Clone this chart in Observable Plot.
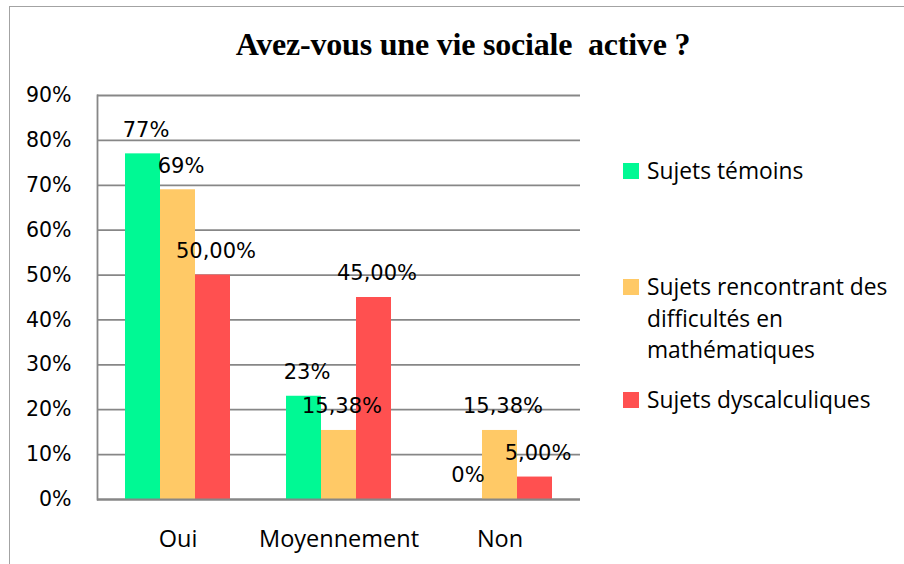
<!DOCTYPE html>
<html>
<head>
<meta charset="utf-8">
<script src="https://cdn.jsdelivr.net/npm/d3@7"></script>
<script src="https://cdn.jsdelivr.net/npm/@observablehq/plot@0.6"></script>
<style>
  html, body { margin: 0; padding: 0; background: #fff; }
  #wrap { position: relative; width: 904px; height: 564px; overflow: hidden; background: #fff; }
  #border { position: absolute; left: 9px; top: 6px; width: 1000px; height: 700px; border: 1.5px solid #a3a3a3; box-sizing: border-box; }
  #chart { position: absolute; left: 0; top: 0; }
  #title { position: absolute; left: 0; top: 28px; width: 926px; text-align: center; white-space: pre; line-height: 32px;
           font-family: "Liberation Serif", "Times New Roman", serif; font-weight: bold; font-size: 32px; color: #000;
           letter-spacing: -0.2px; }
  #legend { position: absolute; left: 623px; top: 0; font-family: "Open Sans", Lato, sans-serif; font-size: 22.8px; color: #000; }
  .item { position: absolute; left: 0; width: 280px; line-height: 31.5px; }
  .sw { position: absolute; left: 0; top: 8px; width: 16px; height: 16px; }
  .lbl { position: absolute; left: 24px; top: 0; width: 270px; white-space: nowrap; }
</style>
</head>
<body>
<div id="wrap">
  <div id="border"></div>
  <div id="chart"></div>
  <div id="title"></div>
  <div id="legend"></div>
</div>
<script>
const title = "Avez-vous une vie sociale  active ?";
const categories = ["Oui", "Moyennement", "Non"];
const series = ["Sujets témoins", "Sujets rencontrant des difficultés en mathématiques", "Sujets dyscalculiques"];
const legendLines = [["Sujets témoins"], ["Sujets rencontrant des", "difficultés en", "mathématiques"], ["Sujets dyscalculiques"]];
const colors = ["#00F994", "#FFC966", "#FF5050"];
const temoins = [0.77, 0.23, 0];
const difficultes = [0.69, 0.1538, 0.1538];
const dyscalculiques = [0.50, 0.45, 0.05];
const labelsTemoins = ["77%", "23%", "0%"];
const labelsDifficultes = ["69%", "15,38%", "15,38%"];
const labelsDyscalculiques = ["50,00%", "45,00%", "5,00%"];
const yTicks = [0, 0.1, 0.2, 0.3, 0.4, 0.5, 0.6, 0.7, 0.8, 0.9];
const yTickLabels = ["0%", "10%", "20%", "30%", "40%", "50%", "60%", "70%", "80%", "90%"];

const valuesBySeries = [temoins, difficultes, dyscalculiques];
const labelsBySeries = [labelsTemoins, labelsDifficultes, labelsDyscalculiques];
const data = [];
series.forEach((s, j) => categories.forEach((c, i) => {
  data.push({cat: c, series: s, value: valuesBySeries[j][i], label: labelsBySeries[j][i]});
}));

const plot = Plot.plot({
  width: 904, height: 564,
  marginLeft: 97, marginRight: 324, marginTop: 95, marginBottom: 65,
  style: {fontFamily: "DejaVu Sans", fontSize: "20px", color: "#000", background: "transparent"},
  fx: {domain: categories, padding: 0, label: null},
  x: {domain: series, paddingInner: 0, paddingOuter: 0.78, axis: null},
  y: {domain: [0, 0.9], label: null},
  color: {domain: series, range: colors},
  marks: [
    Plot.gridY(yTicks, {stroke: "#878787", strokeOpacity: 1, strokeWidth: 1.8}),
    Plot.frame({anchor: "left", facetAnchor: "left", stroke: "#878787", strokeWidth: 1.8}),
    Plot.axisY(yTicks, {tickSize: 0, tickPadding: 26, fontSize: 20.5, fill: "#000",
      tickFormat: d => yTickLabels[yTicks.indexOf(d)], label: null}),
    Plot.axisFx({tickSize: 0, tickPadding: 31, fontSize: 23.5, fontFamily: "Open Sans", fill: "#000", label: null, anchor: "bottom"}),
    Plot.barY(data, {fx: "cat", x: "series", y: "value", fill: "series"}),
    Plot.ruleY([0], {stroke: "#878787", strokeWidth: 1.8}),
    Plot.text(data, {fx: "cat", x: "series", y: "value", text: "label", dy: -24, dx: 3, fontSize: 21, fill: "#000"})
  ]
});
document.getElementById("chart").appendChild(plot);
document.getElementById("title").textContent = title;

const legend = document.getElementById("legend");
const tops = [155, 271, 384];
legendLines.forEach((lines, j) => {
  const it = document.createElement("div");
  it.className = "item";
  it.style.top = tops[j] + "px";
  const sw = document.createElement("div");
  sw.className = "sw";
  sw.style.background = colors[j];
  const lb = document.createElement("div");
  lb.className = "lbl";
  lb.innerHTML = lines.join("<br>");
  it.appendChild(sw); it.appendChild(lb);
  legend.appendChild(it);
});
</script>
</body>
</html>
